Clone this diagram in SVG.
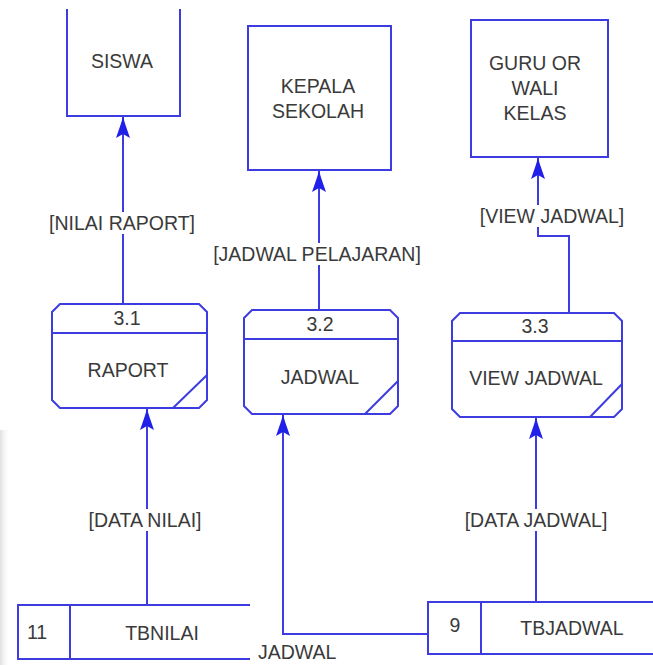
<svg xmlns="http://www.w3.org/2000/svg" width="653" height="665" viewBox="0 0 653 665">
<style>
.ln{fill:none;stroke:#3c3ce0;stroke-width:2;}
.t{font-family:"Liberation Sans",Arial,sans-serif;font-size:19.5px;fill:#3a3a3a;text-anchor:middle;}
.s{text-anchor:start;}
</style>
<defs>
<marker id="ah" viewBox="-21 -8 22 16" refX="0" refY="0" markerWidth="22" markerHeight="16" markerUnits="userSpaceOnUse" orient="auto">
<path d="M0,0 L-8,-2.5 L-21,-7 L-17,0 L-21,7 L-8,2.5 Z" fill="#2020e8"/>
</marker>
<linearGradient id="edge" x1="0" y1="0" x2="1" y2="0">
<stop offset="0" stop-color="#d8d8d8" stop-opacity="0.8"/>
<stop offset="1" stop-color="#ffffff" stop-opacity="0"/>
</linearGradient>
</defs>
<rect width="653" height="665" fill="#ffffff"/>
<rect x="0" y="430" width="10" height="235" fill="url(#edge)"/>

<g id="connectors">
<path class="ln" d="M123,305 V117" marker-end="url(#ah)"/>
<path class="ln" d="M319,311 V171" marker-end="url(#ah)"/>
<path class="ln" d="M569,313 V236 H538 V158" marker-end="url(#ah)"/>
<path class="ln" d="M147,605 V409" marker-end="url(#ah)"/>
<path class="ln" d="M428,634 H283 V415" marker-end="url(#ah)"/>
<path class="ln" d="M536,602 V418" marker-end="url(#ah)"/>
<rect x="50" y="212" width="146" height="22" fill="#ffffff"/>
<rect x="210" y="243" width="214" height="22" fill="#ffffff"/>
<rect x="478" y="205" width="150" height="22" fill="#ffffff"/>
<rect x="85" y="509" width="121" height="22" fill="#ffffff"/>
<rect x="461" y="509" width="150" height="22" fill="#ffffff"/>
<text class="t" x="122" y="230">[NILAI RAPORT]</text>
<text class="t" x="317" y="261">[JADWAL PELAJARAN]</text>
<text class="t" x="552" y="223">[VIEW JADWAL]</text>
<text class="t" x="145" y="527">[DATA NILAI]</text>
<text class="t" x="536" y="527">[DATA JADWAL]</text>
<text class="t s" x="258" y="659">JADWAL</text>
</g>

<g id="siswa">
<path class="ln" d="M67,9 V116 H180 V9"/>
<text class="t" x="122" y="68">SISWA</text>
</g>

<g id="kepala-sekolah">
<rect class="ln" x="248" y="26" width="143" height="144"/>
<text class="t" x="318" y="93">KEPALA</text>
<text class="t" x="318" y="118">SEKOLAH</text>
</g>

<g id="guru-wali-kelas">
<rect class="ln" x="471" y="20" width="137" height="137"/>
<text class="t" x="535" y="70">GURU OR</text>
<text class="t" x="535" y="95">WALI</text>
<text class="t" x="535" y="120">KELAS</text>
</g>

<g id="p31">
<path class="ln" d="M60,304 H199 L207,312 V400 L199,408 H60 L52,400 V312 Z"/>
<path class="ln" d="M52,333 H207 M173,408 L207,375"/>
<text class="t" x="127" y="325">3.1</text>
<text class="t" x="128" y="377">RAPORT</text>
</g>

<g id="p32">
<path class="ln" d="M252,310 H390 L398,318 V406 L390,414 H252 L244,406 V318 Z"/>
<path class="ln" d="M244,339 H398 M365,414 L398,381"/>
<text class="t" x="320" y="331">3.2</text>
<text class="t" x="320" y="384">JADWAL</text>
</g>

<g id="p33">
<path class="ln" d="M460,313 H614 L622,321 V409 L614,417 H460 L452,409 V321 Z"/>
<path class="ln" d="M452,341 H622 M590,417 L622,384"/>
<text class="t" x="535" y="333">3.3</text>
<text class="t" x="536" y="385">VIEW JADWAL</text>
</g>

<g id="tbnilai">
<path class="ln" d="M250,605 H18 V659 H250 M70,605 V659"/>
<text class="t" x="37" y="639">11</text>
<text class="t" x="162" y="640">TBNILAI</text>
</g>

<g id="tbjadwal">
<path class="ln" d="M653,602 H428 V654 H653 M481,602 V654"/>
<text class="t" x="455" y="632">9</text>
<text class="t" x="572" y="635">TBJADWAL</text>
</g>
</svg>
